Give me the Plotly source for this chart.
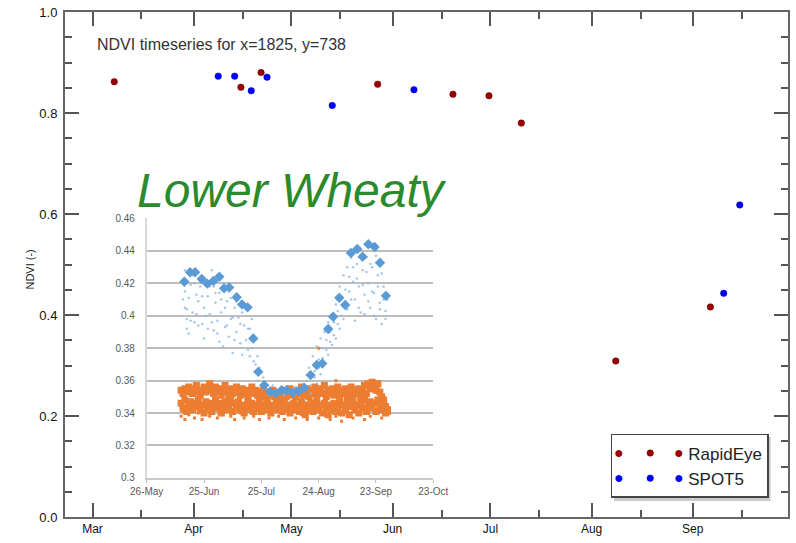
import plotly.graph_objects as go

# ---------------- main chart data ----------------
rapideye_dates = ["2011-03-07 16:00", "2011-04-15 12:00", "2011-04-21 16:00", "2011-05-27 10:00",
                  "2011-06-19 12:00", "2011-06-30 13:00", "2011-07-10 11:00", "2011-08-08 10:00",
                  "2011-09-06 10:00"]
rapideye_ndvi = [0.862, 0.851, 0.880, 0.857, 0.837, 0.834, 0.780, 0.309, 0.416]

spot5_dates = ["2011-04-08 13:00", "2011-04-13 14:00", "2011-04-18 16:00", "2011-04-23 12:00",
               "2011-05-13 12:00", "2011-06-07 13:00", "2011-09-10 12:00", "2011-09-15 10:00"]
spot5_ndvi = [0.873, 0.873, 0.844, 0.871, 0.815, 0.846, 0.443, 0.618]

month_ticks = ["2011-03-01", "2011-04-01", "2011-05-01", "2011-06-01", "2011-07-01", "2011-08-01", "2011-09-01"]
month_labels = ["Mar", "Apr", "May", "Jun", "Jul", "Aug", "Sep"]
mid_month_ticks = ["2011-03-16", "2011-04-16", "2011-05-16", "2011-06-16", "2011-07-16", "2011-08-16", "2011-09-16"]
ndvi_ticks = [0.0, 0.2, 0.4, 0.6, 0.8, 1.0]

# ---------------- inset chart data (days after 26-May) ----------------
inset_tickvals = [0, 30, 60, 90, 120, 150]
inset_ticktext = ["26-May", "25-Jun", "25-Jul", "24-Aug", "23-Sep", "23-Oct"]
inset_yticks = [0.30, 0.32, 0.34, 0.36, 0.38, 0.40, 0.42, 0.44, 0.46]
inset_ylabels = ["0.3", "0.32", "0.34", "0.36", "0.38", "0.4", "0.42", "0.44", "0.46"]

diamond_days = [19.7, 22.7, 25.3, 28.8, 31.7, 34.9, 38.0, 40.5, 43.2, 47.1, 49.9, 52.8, 55.8, 58.4,
                61.5, 64.5, 67.5, 70.6, 73.3, 76.5, 79.5, 82.5, 85.8, 89.0, 91.9, 95.0, 97.6, 100.8,
                103.9, 106.9, 110.2, 113.0, 116.0, 119.3, 122.1, 125.2]
diamond_vals = [0.421, 0.4268, 0.4268, 0.4227, 0.4198, 0.4214, 0.4241, 0.4169, 0.4175, 0.4114, 0.407,
                0.4052, 0.386, 0.3654, 0.3572, 0.3531, 0.3522, 0.3541, 0.3541, 0.3525, 0.3535, 0.3555,
                0.3634, 0.3696, 0.3706, 0.3918, 0.3994, 0.4111, 0.4066, 0.4387, 0.4412, 0.4364,
                0.4441, 0.4424, 0.4327, 0.4123]

blue_dot_days = [20, 20, 20, 21, 21, 22, 22, 23, 24, 24, 25, 26, 27, 28, 29, 30, 30, 31, 32, 33, 34, 35,
                 35, 36, 37, 38, 38, 39, 40, 41, 42, 43, 43, 44, 45, 46, 47, 48, 48, 49, 50, 51, 52, 52,
                 53, 54, 55, 56, 57, 58, 58, 59, 60, 61, 62, 64, 66, 68, 70, 72, 74, 76, 78, 80, 82, 84,
                 85, 86, 87, 88, 89, 90, 91, 92, 93, 94, 95, 96, 97, 98, 99, 100, 101, 102, 103, 104,
                 105, 106, 107, 108, 109, 110, 111, 112, 113, 114, 115, 116, 117, 118, 119, 120, 121,
                 122, 123, 124, 125, 126, 125]
blue_dot_vals = [0.428, 0.415, 0.405, 0.398, 0.392, 0.389, 0.411, 0.419, 0.425, 0.402, 0.396, 0.413,
                 0.409, 0.418, 0.395, 0.405, 0.386, 0.421, 0.412, 0.401, 0.428, 0.391, 0.418, 0.408,
                 0.397, 0.384, 0.414, 0.402, 0.420, 0.393, 0.409, 0.387, 0.415, 0.398, 0.377, 0.405,
                 0.390, 0.411, 0.399, 0.383, 0.402, 0.394, 0.385, 0.405, 0.379, 0.392, 0.380, 0.372,
                 0.365, 0.375, 0.360, 0.368, 0.357, 0.362, 0.355, 0.351, 0.357, 0.352, 0.355, 0.351,
                 0.354, 0.352, 0.356, 0.353, 0.358, 0.360, 0.368, 0.357, 0.375, 0.362, 0.381, 0.368,
                 0.386, 0.374, 0.390, 0.379, 0.396, 0.384, 0.401, 0.388, 0.407, 0.395, 0.418, 0.400,
                 0.425, 0.409, 0.430, 0.415, 0.436, 0.421, 0.410, 0.432, 0.418, 0.402, 0.428, 0.413,
                 0.436, 0.420, 0.405, 0.430, 0.414, 0.398, 0.425, 0.408, 0.395, 0.418, 0.403, 0.410,
                 0.398]
blue_dot_days_b = [19, 21, 23, 25, 26, 27, 29, 31, 32, 33, 34, 36, 37, 39, 40, 41, 42, 44, 45, 46, 47,
                   49, 50, 51, 53, 54, 55, 56, 57, 86, 88, 89, 90, 91, 92, 93, 94, 95, 96, 97, 98, 99,
                   100, 101, 102, 103, 104, 105, 106, 107, 108, 109, 110, 111, 112, 113, 114, 115, 116,
                   117, 118, 119, 120, 121, 122, 123, 124]
blue_dot_vals_b = [0.410, 0.404, 0.397, 0.420, 0.401, 0.394, 0.412, 0.400, 0.392, 0.418, 0.396,
                   0.414, 0.389, 0.410, 0.381, 0.405, 0.394, 0.411, 0.399, 0.385, 0.409, 0.395,
                   0.376, 0.407, 0.392, 0.375, 0.398, 0.386, 0.370,
                   0.352, 0.366, 0.358, 0.373, 0.364, 0.380, 0.371, 0.385, 0.376, 0.390, 0.382,
                   0.396, 0.386, 0.403, 0.392, 0.410, 0.398, 0.416, 0.404, 0.424, 0.410, 0.430,
                   0.397, 0.423, 0.405, 0.437, 0.419, 0.401, 0.427, 0.409, 0.432, 0.415, 0.400,
                   0.437, 0.418, 0.404, 0.426, 0.410]

square_days = [18, 19, 20, 21, 22, 23, 24, 25, 26, 27, 28, 29, 30, 31, 32, 33, 34, 35, 36, 37,
               38, 39, 40, 41, 42, 43, 44, 45, 46, 47, 48, 49, 50, 51, 52, 53, 54, 55, 56, 57,
               58, 59, 60, 61, 62, 63, 64, 65, 66, 67, 68, 69, 70, 71, 72, 73, 74, 75, 76, 77,
               78, 79, 80, 81, 82, 83, 84, 85, 86, 87, 88, 89, 90, 91, 92, 93, 94, 95, 96, 97,
               98, 99, 100, 101, 102, 103, 104, 105, 106, 107, 108, 109, 110, 111, 112, 113, 114,
               115, 116, 117, 118, 119, 120, 121, 122, 123, 124, 125, 126]
square_upper = [0.354, 0.352, 0.355, 0.353, 0.356, 0.354, 0.352, 0.355, 0.357, 0.353,
                0.351, 0.354, 0.356, 0.353, 0.355, 0.358, 0.354, 0.352, 0.356, 0.353,
                0.355, 0.351, 0.354, 0.357, 0.353, 0.350, 0.355, 0.352, 0.354, 0.356,
                0.353, 0.351, 0.355, 0.352, 0.354, 0.350, 0.353, 0.356, 0.352, 0.354,
                0.351, 0.353, 0.350, 0.354, 0.352, 0.349, 0.353, 0.351, 0.354, 0.350,
                0.352, 0.349, 0.353, 0.351, 0.354, 0.350, 0.352, 0.355, 0.351, 0.353,
                0.350, 0.354, 0.352, 0.356, 0.351, 0.353, 0.355, 0.350, 0.354, 0.352,
                0.356, 0.351, 0.353, 0.355, 0.352, 0.357, 0.350, 0.354, 0.352, 0.355,
                0.351, 0.353, 0.356, 0.350, 0.354, 0.352, 0.355, 0.349, 0.353, 0.356,
                0.351, 0.354, 0.352, 0.355, 0.350, 0.353, 0.357, 0.352, 0.358, 0.355,
                0.359, 0.356, 0.354, 0.358, 0.353, 0.350, 0.348, 0.344, 0.342]
square_lower = [0.346, 0.343, 0.348, 0.341, 0.345, 0.347, 0.342, 0.346, 0.344, 0.348,
                0.342, 0.345, 0.340, 0.347, 0.343, 0.346, 0.341, 0.345, 0.348, 0.343,
                0.346, 0.340, 0.344, 0.347, 0.342, 0.345, 0.348, 0.341, 0.346, 0.343,
                0.347, 0.342, 0.345, 0.340, 0.344, 0.347, 0.343, 0.346, 0.341, 0.345,
                0.343, 0.347, 0.341, 0.345, 0.342, 0.346, 0.344, 0.340, 0.345, 0.343,
                0.346, 0.342, 0.345, 0.341, 0.347, 0.343, 0.345, 0.340, 0.344, 0.346,
                0.342, 0.345, 0.341, 0.347, 0.343, 0.339, 0.345, 0.342, 0.346, 0.341,
                0.344, 0.347, 0.342, 0.345, 0.340, 0.346, 0.343, 0.339, 0.345, 0.342,
                0.346, 0.341, 0.344, 0.347, 0.340, 0.345, 0.342, 0.346, 0.339, 0.344,
                0.347, 0.342, 0.345, 0.340, 0.346, 0.343, 0.348, 0.341, 0.345, 0.347,
                0.343, 0.346, 0.341, 0.348, 0.344, 0.342, 0.346, 0.340, 0.341]

orange_dot_days = [18, 19, 20, 22, 23, 25, 27, 29, 31, 33, 35, 37, 40, 42, 44, 46, 49, 51, 54, 56,
                   59, 61, 64, 66, 69, 72, 75, 78, 81, 84, 87, 90, 93, 96, 99, 102, 105, 108, 111,
                   114, 117, 120, 123, 90, 99]
orange_dot_vals = [0.338, 0.341, 0.336, 0.339, 0.343, 0.337, 0.340, 0.336, 0.342, 0.338, 0.341,
                   0.337, 0.339, 0.343, 0.338, 0.336, 0.340, 0.337, 0.341, 0.338, 0.336, 0.340,
                   0.337, 0.341, 0.338, 0.336, 0.340, 0.337, 0.339, 0.336, 0.340, 0.337, 0.339,
                   0.336, 0.338, 0.335, 0.339, 0.337, 0.340, 0.336, 0.338, 0.341, 0.337, 0.380,
                   0.360]

FONT = "Liberation Sans"
fig = go.Figure()

# inset traces (drawn on x2/y2)
fig.add_trace(go.Scatter(x=square_days, y=square_upper, xaxis="x2", yaxis="y2", mode="markers",
                         marker=dict(symbol="square", size=7, color="#ED7D31"), showlegend=False,
                         hoverinfo="skip"))
fig.add_trace(go.Scatter(x=square_days, y=square_lower, xaxis="x2", yaxis="y2", mode="markers",
                         marker=dict(symbol="square", size=7, color="#ED7D31"), showlegend=False,
                         hoverinfo="skip"))
fig.add_trace(go.Scatter(x=orange_dot_days, y=orange_dot_vals, xaxis="x2", yaxis="y2", mode="markers",
                         marker=dict(symbol="square", size=3, color="#ED7D31"), showlegend=False,
                         hoverinfo="skip"))
fig.add_trace(go.Scatter(x=blue_dot_days, y=blue_dot_vals, xaxis="x2", yaxis="y2", mode="markers",
                         marker=dict(symbol="circle", size=2.5, color="#8DB8E2", opacity=0.8,
                                     line=dict(width=0)),
                         showlegend=False, hoverinfo="skip"))
fig.add_trace(go.Scatter(x=blue_dot_days_b, y=blue_dot_vals_b, xaxis="x2", yaxis="y2", mode="markers",
                         marker=dict(symbol="circle", size=2.5, color="#8DB8E2", opacity=0.8,
                                     line=dict(width=0)),
                         showlegend=False, hoverinfo="skip"))
fig.add_trace(go.Scatter(x=diamond_days, y=diamond_vals, xaxis="x2", yaxis="y2", mode="markers",
                         marker=dict(symbol="diamond", size=8, color="#5B9BD5"), showlegend=False,
                         hoverinfo="skip"))

# main traces
fig.add_trace(go.Scatter(x=rapideye_dates, y=rapideye_ndvi, mode="markers", name="RapidEye",
                         marker=dict(symbol="circle", size=6.5, color="#990000",
                                     line=dict(width=0.5, color="#660000"))))
fig.add_trace(go.Scatter(x=spot5_dates, y=spot5_ndvi, mode="markers", name="SPOT5",
                         marker=dict(symbol="circle", size=6.5, color="#0000FF",
                                     line=dict(width=0.5, color="#0000AA"))))

fig.update_layout(
    width=796, height=543,
    margin=dict(l=65, r=8, t=12, b=26, autoexpand=False),
    paper_bgcolor="white", plot_bgcolor="white",
    font=dict(family=FONT, size=12, color="#222"),
    xaxis=dict(type="date", range=["2011-02-20 13:40", "2011-09-30 05:00"], automargin=False,
               tickmode="array", tickvals=month_ticks, ticktext=month_labels,
               ticks="inside", ticklen=14, tickwidth=1.5, tickcolor="#555",
               showline=True, linecolor="#666", linewidth=2, mirror="ticks",
               showgrid=False, zeroline=False, tickfont=dict(size=12, color="#111"),
               minor=dict(tickmode="array", tickvals=mid_month_ticks, ticks="inside",
                          ticklen=7, tickwidth=1.5, tickcolor="#555", showgrid=False)),
    yaxis=dict(range=[0, 1], tickmode="array", tickvals=ndvi_ticks, tickformat=".1f", automargin=False,
               ticks="inside", ticklen=14, tickwidth=1.5, tickcolor="#555",
               showline=True, linecolor="#666", linewidth=2, mirror="ticks",
               showgrid=False, zeroline=False, tickfont=dict(size=13, color="#111"),
               ticklabelstandoff=3,
               minor=dict(dtick=0.05, ticks="inside", ticklen=7, tickwidth=1.5,
                          tickcolor="#555", showgrid=False)),
    xaxis2=dict(domain=[0.113, 0.5094], anchor="y2", range=[0, 150], automargin=False,
                tickmode="array", tickvals=inset_tickvals, ticktext=inset_ticktext,
                ticks="outside", ticklen=3, tickcolor="#bfbfbf",
                showline=True, linecolor="#c8c8c8", linewidth=1.5, showgrid=False,
                zeroline=False, tickfont=dict(size=10, color="#595959")),
    yaxis2=dict(domain=[0.0774, 0.5911], anchor="x2", range=[0.3, 0.46], automargin=False,
                tickmode="array", tickvals=inset_yticks, ticktext=inset_ylabels,
                ticks="", showline=True, linecolor="#d9d9d9", linewidth=1.5,
                showgrid=True, gridcolor="#bdbdbd", gridwidth=1.5, zeroline=False,
                tickfont=dict(size=10, color="#595959"), ticklabelstandoff=8),
    legend=dict(x=0.7548, y=0.1644, xanchor="left", yanchor="top",
                bgcolor="white", bordercolor="#444", borderwidth=1.5,
                font=dict(size=17, color="#222"), itemwidth=66),
    showlegend=True,
)

# legend drop shadow
fig.add_shape(type="rect", xref="paper", yref="paper", x0=0.7593, x1=0.976, y0=0.0317, y1=0.1584,
              fillcolor="#cccccc", line=dict(width=0), layer="above")

# extra legend dots (the legend shows three dots per entry)
for xp in [0.7667, 0.8497]:
    fig.add_annotation(x=xp, y=0.1282, xref="paper", yref="paper", xanchor="center", yanchor="middle",
                       text="●", showarrow=False, font=dict(size=16, color="#990000"))
    fig.add_annotation(x=xp, y=0.0792, xref="paper", yref="paper", xanchor="center", yanchor="middle",
                       text="●", showarrow=False, font=dict(size=16, color="#0000FF"))

fig.add_annotation(x=0.0415, y=0.9366, xref="paper", yref="paper", xanchor="left", yanchor="middle",
                   text="NDVI timeseries for x=1825, y=738", showarrow=False,
                   font=dict(size=16, color="#333"))
fig.add_annotation(x=-0.0484, y=0.49, xref="paper", yref="paper", xanchor="center", yanchor="middle",
                   text="NDVI (-)", textangle=-90,
                   showarrow=False, font=dict(size=11, color="#222"))
fig.add_annotation(x=0.3133, y=0.6475, xref="paper", yref="paper", xanchor="center", yanchor="middle",
                   text="Lower Wheaty",
                   showarrow=False, font=dict(size=48, color="#2B8A2B", style="italic",
                                              family=FONT))

fig.write_html("out.html")
